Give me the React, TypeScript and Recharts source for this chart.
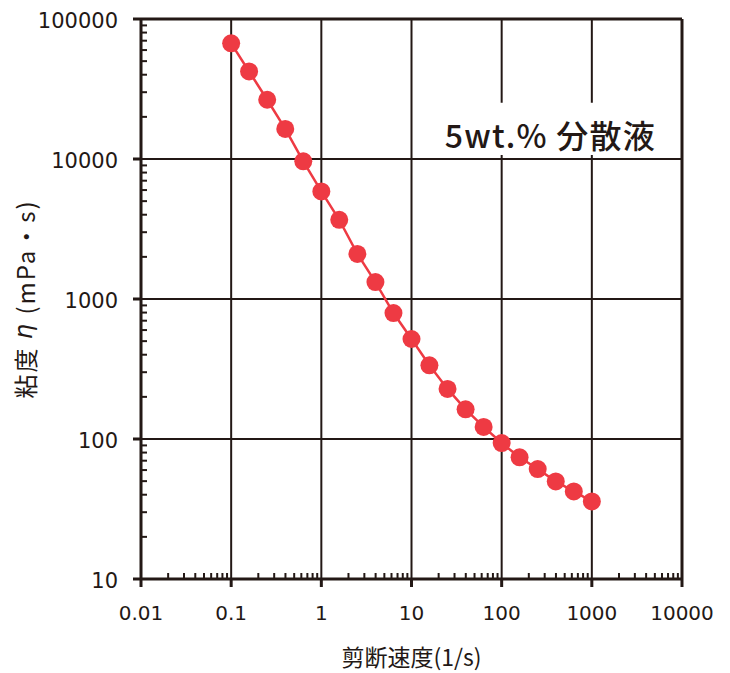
import React from 'react';
import { ComposedChart, Line, XAxis, YAxis, ReferenceLine, ReferenceArea } from 'recharts';

const shearRate = [0.1, 0.158, 0.251, 0.398, 0.631, 1, 1.58, 2.51, 3.98, 6.31, 10, 15.8, 25.1, 39.8, 63.1, 100, 158, 251, 398, 631, 1000];
const viscosity = [67000, 42200, 26500, 16400, 9620, 5870, 3680, 2100, 1320, 794, 518, 336, 228, 163, 122, 93.6, 74, 61, 49.8, 42.2, 35.8];

const xMajorTicks = [0.01, 0.1, 1, 10, 100, 1000, 10000];
const xTickLabels = ['0.01', '0.1', '1', '10', '100', '1000', '10000'];
const yMajorTicks = [10, 100, 1000, 10000, 100000];
const yTickLabels = ['10', '100', '1000', '10000', '100000'];
const minorMultipliers = [2, 3, 4, 5, 6, 7, 8, 9];

const xAllTicks = [
  ...xMajorTicks,
  ...xMajorTicks.slice(0, -1).flatMap((d) => minorMultipliers.map((m) => d * m)),
].sort((a, b) => a - b);
const yAllTicks = [
  ...yMajorTicks,
  ...yMajorTicks.slice(0, -1).flatMap((d) => minorMultipliers.map((m) => d * m)),
].sort((a, b) => a - b);

const data = shearRate.map((x, i) => ({ x, y: viscosity[i] }));

const INK = '#231815';
const RED = '#EE3A43';
const NUM_FONT = "'DejaVu Sans', 'Noto Sans CJK JP', sans-serif";
const JP_FONT = "'Noto Sans CJK JP', sans-serif";

const XTick = (props: any) => {
  const { x, y, payload } = props;
  const idx = xMajorTicks.indexOf(payload.value);
  if (idx >= 0) {
    return (
      <g>
        <line x1={x} y1={y} x2={x} y2={y + 8} stroke={INK} strokeWidth={3} />
        <text x={x} y={y + 41} textAnchor="middle" fontSize={20} fontFamily={NUM_FONT} fill={INK}>
          {xTickLabels[idx]}
        </text>
      </g>
    );
  }
  return <line x1={x} y1={y} x2={x} y2={y - 6} stroke={INK} strokeWidth={2} />;
};

const YTick = (props: any) => {
  const { x, y, payload } = props;
  const idx = yMajorTicks.indexOf(payload.value);
  if (idx >= 0) {
    return (
      <g>
        <line x1={x} y1={y} x2={x - 8} y2={y} stroke={INK} strokeWidth={3} />
        <text x={x - 23} y={y + 9} textAnchor="end" fontSize={21} fontFamily={NUM_FONT} fill={INK}>
          {yTickLabels[idx]}
        </text>
      </g>
    );
  }
  return <line x1={x} y1={y} x2={x + 6} y2={y} stroke={INK} strokeWidth={2} />;
};

const XTitle = (props: any) => {
  const vb = props.viewBox || { x: 0, y: 0, width: 0 };
  return (
    <text x={vb.x + vb.width / 2} y={vb.y + 87} textAnchor="middle" fontSize={23} fontFamily={JP_FONT} fill={INK}>
      剪断速度(1/s)
    </text>
  );
};

const YTitle = (props: any) => {
  const vb = props.viewBox || { x: 0, y: 0, height: 0 };
  const cx = 24;
  const cy = vb.y + vb.height / 2;
  return (
    <text
      x={cx}
      y={cy}
      transform={`rotate(-90 ${cx} ${cy})`}
      textAnchor="middle"
      dominantBaseline="central"
      fontSize={24}
      letterSpacing={2}
      fontFamily={JP_FONT}
      fill={INK}
    >
      粘度 <tspan fontStyle="italic" fontFamily="'DejaVu Sans', sans-serif">η</tspan> (mPa・s)
    </text>
  );
};

const NoteLabel = (props: any) => {
  const vb = props.viewBox || { x: 0, y: 0, width: 0, height: 0 };
  return (
    <text
      x={vb.x + vb.width / 2 - 2}
      y={vb.y + vb.height / 2 + 5}
      textAnchor="middle"
      dominantBaseline="central"
      fontSize={32}
      letterSpacing={1.2}
      fontFamily={JP_FONT}
      fontWeight={500}
      fill={INK}
    >
      5wt.% 分散液
    </text>
  );
};

export default function App() {
  return (
    <div style={{ position: 'absolute', left: 0, top: 0, background: '#fff' }}>
      <ComposedChart width={730} height={673} data={data} margin={{ top: 19, right: 48, bottom: 34, left: 81 }}>
        <XAxis
          dataKey="x"
          type="number"
          scale="log"
          domain={[0.01, 10000]}
          allowDataOverflow
          ticks={xAllTicks}
          interval={0}
          tick={<XTick />}
          tickLine={false}
          tickSize={0}
          tickMargin={0}
          height={60}
          axisLine={{ stroke: INK, strokeWidth: 3 }}
          label={<XTitle />}
        />
        <YAxis
          dataKey="y"
          type="number"
          scale="log"
          domain={[10, 100000]}
          allowDataOverflow
          ticks={yAllTicks}
          interval={0}
          tick={<YTick />}
          tickLine={false}
          tickSize={0}
          tickMargin={0}
          width={60}
          axisLine={{ stroke: INK, strokeWidth: 3 }}
          label={<YTitle />}
        />
        {xMajorTicks.slice(1, -1).map((v) => (
          <ReferenceLine key={'vx' + v} x={v} stroke={INK} strokeWidth={2} />
        ))}
        {yMajorTicks.slice(1, -1).map((v) => (
          <ReferenceLine key={'hy' + v} y={v} stroke={INK} strokeWidth={2} />
        ))}
        <ReferenceLine x={10000} stroke={INK} strokeWidth={3} />
        <ReferenceLine y={100000} stroke={INK} strokeWidth={3} />
        <ReferenceArea
          x1={14}
          x2={9500}
          y1={10700}
          y2={25200}
          fill="#ffffff"
          fillOpacity={1}
          stroke="none"
          zIndex={450}
          label={<NoteLabel />}
        />
        <Line
          dataKey="y"
          type="linear"
          stroke={RED}
          strokeWidth={2.5}
          dot={{ r: 9, fill: RED, stroke: 'none' }}
          activeDot={false}
          isAnimationActive={false}
        />
      </ComposedChart>
    </div>
  );
}
